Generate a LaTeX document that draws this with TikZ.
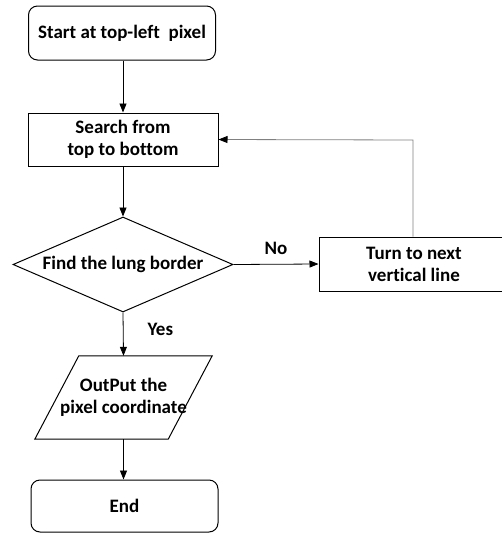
\documentclass[tikz,border=0pt]{standalone}
\usepackage{fontspec}
\setmainfont{Carlito}[Ligatures=NoCommon]
\usetikzlibrary{shapes.geometric,arrows.meta,calc}
\begin{document}
\begin{tikzpicture}[x=1pt,y=-1pt,
  every node/.style={font=\bfseries\fontsize{19}{22}\selectfont, align=center, inner sep=0pt},
  term/.style={draw, line width=1pt, rounded corners=9pt},
  proc/.style={draw, line width=1pt},
  arr/.style={line width=0.8pt, -{Triangle[length=9pt,width=7pt]}},
  lbl/.style={font=\bfseries\fontsize{19}{22}\selectfont}]
\useasboundingbox (0,0) rectangle (502,533);
\clip (0,0) rectangle (502,533);
\fill[white] (0,0) rectangle (502,533);
\node[term, minimum width=187pt, minimum height=54pt] (start) at (122,33) {Start at top-left\ \ pixel};
\node[proc, minimum width=190pt, minimum height=53pt] (search) at (123,139.5) {Search from\\top to bottom};
\node[diamond, draw, line width=1pt, minimum width=220pt, minimum height=95pt, aspect=2.3] (find) at (123,264.5) {Find the lung border};
\node[proc, minimum width=190pt, minimum height=54pt] (turn) at (414,264) {Turn to next\\vertical line};
\node[minimum width=177pt, minimum height=83pt] (out) at (123.5,397.5) {OutPut the\\pixel coordinate};
\draw[line width=1pt] (out.south west) -- ($(out.south east)+(-44,0)$) -- (out.north east) -- ($(out.north west)+(44,0)$) -- cycle;
\node[term, minimum width=187pt, minimum height=52pt] (end) at (124.5,506) {End};
\coordinate (corner) at (413,140);
\draw[arr] (start.south -| search.north) -- (search.north);
\draw[arr] (search.south) -- (find.north);
\draw[arr] (find.east) -- (turn.west) node[lbl, midway, above=9pt] {No};
\draw[arr] (find.south) -- (out.north) node[lbl, pos=0.4, right=24pt] {Yes};
\draw[arr] (out.south) -- (out.south |- end.north);
\draw[line width=0.8pt, draw=gray, -{Triangle[length=9pt,width=7pt,color=black]}] (turn.north -| corner) -- (corner) -- (search.east);
\end{tikzpicture}
\end{document}
